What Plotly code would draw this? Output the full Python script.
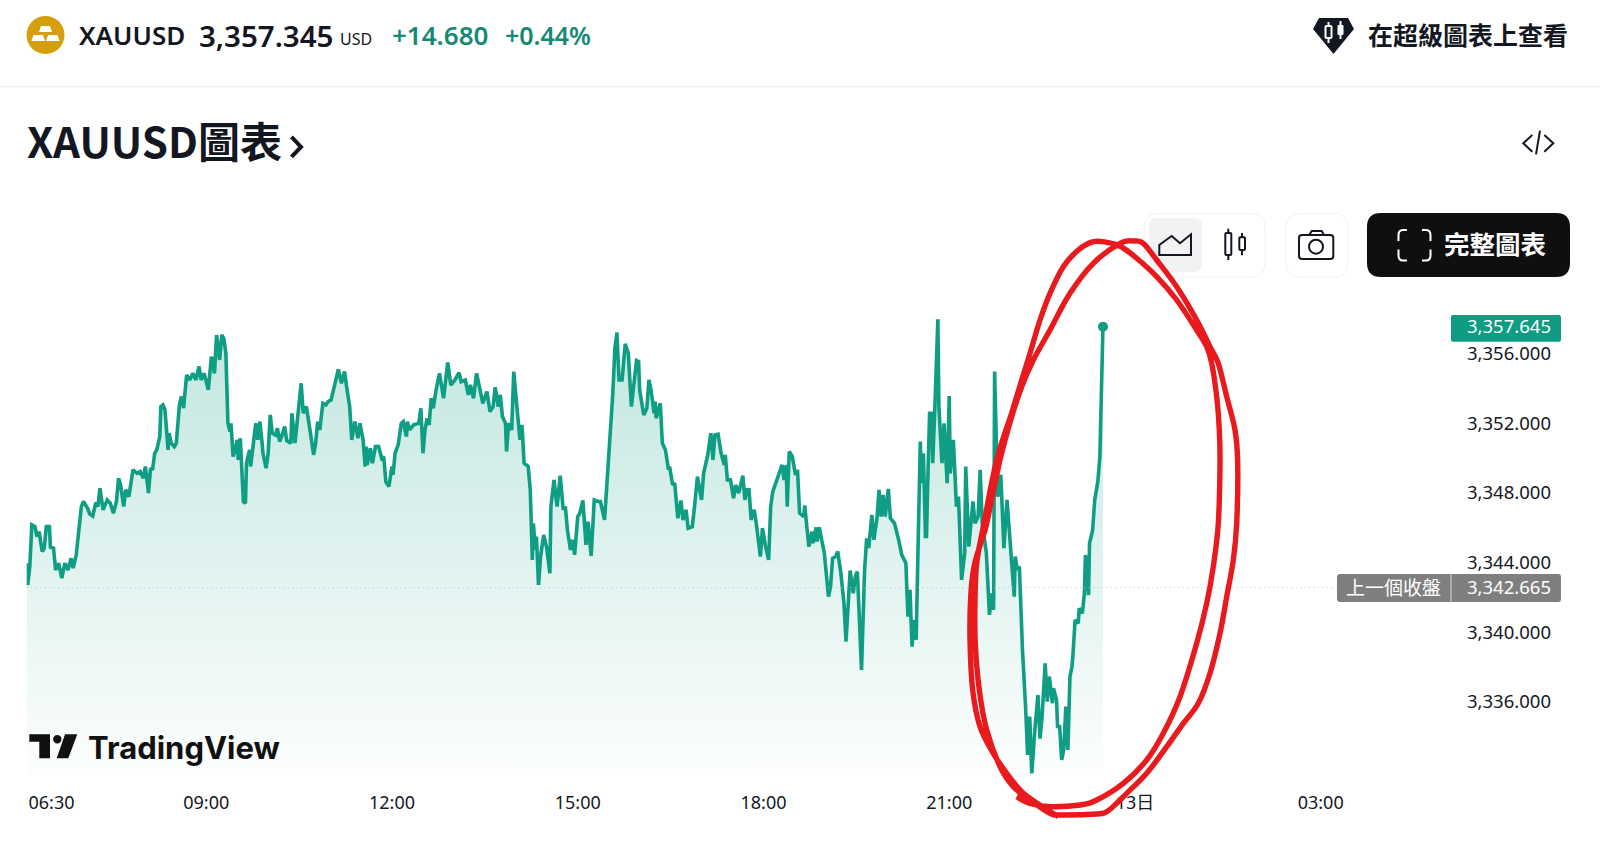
import plotly.graph_objects as go
import pandas as pd

W, H = 1600, 862

SYMBOL = "XAUUSD"
LAST_QUOTE = "3,357.345"
CHANGE = "+14.680"
CHANGE_PCT = "+0.44%"
LAST_PRICE = 3357.645
PREV_CLOSE = 3342.665
SESSION_START = "2025-06-12 06:06"

# minutes after session start, price
elapsed_min = [
    0, 1, 3, 4, 5, 8, 10, 12, 15, 17, 19, 22, 23, 26, 28, 31, 34, 37, 40, 43,
    45, 48, 50, 53, 55, 59, 61, 64, 67, 69, 71, 74, 78, 81, 84, 87, 89, 91, 94, 96,
    99, 102, 103, 107, 110, 113, 115, 118, 120, 122, 124, 126, 129, 130, 132, 134, 137, 138, 140, 143,
    145, 148, 150, 152, 155, 158, 161, 164, 167, 169, 172, 176, 179, 182, 184, 187, 189, 191, 193, 195,
    197, 198, 200, 202, 204, 205, 207, 210, 212, 213, 216, 217, 219, 222, 224, 226, 228, 229, 232, 234,
    236, 238, 241, 243, 245, 247, 250, 252, 256, 257, 260, 263, 266, 268, 271, 275, 278, 280, 282, 284,
    287, 290, 292, 295, 299, 302, 305, 308, 310, 313, 315, 318, 321, 323, 326, 328, 329, 330, 333, 335,
    338, 341, 344, 346, 348, 351, 354, 355, 357, 360, 363, 365, 368, 369, 371, 375, 380, 382, 384, 386,
    388, 390, 392, 394, 397, 400, 404, 408, 411, 415, 419, 421, 425, 428, 430, 433, 436, 439, 442, 446,
    449, 452, 454, 457, 459, 461, 464, 465, 467, 470, 472, 474, 476, 478, 480, 482, 486, 488, 490, 491,
    493, 494, 496, 498, 501, 504, 507, 508, 511, 514, 517, 520, 522, 524, 527, 529, 531, 534, 536, 539,
    542, 544, 547, 550, 554, 556, 560, 563, 565, 568, 570, 572, 574, 577, 580, 583, 586, 589, 591, 593,
    594, 598, 601, 603, 605, 608, 609, 610, 614, 616, 619, 622, 623, 626, 628, 631, 634, 636, 639, 641,
    645, 647, 650, 654, 656, 660, 663, 665, 667, 670, 673, 676, 677, 679, 682, 685, 687, 690, 694, 696,
    698, 700, 702, 705, 707, 711, 713, 716, 719, 721, 723, 727, 732, 734, 736, 737, 739, 742, 745, 747,
    749, 753, 754, 756, 758, 761, 762, 765, 766, 768, 771, 773, 777, 779, 781, 784, 786, 789, 792, 794,
    798, 801, 803, 805, 809, 812, 814, 816, 819, 821, 824, 826, 828, 830, 832, 835, 837, 841, 845, 848,
    852, 854, 856, 858, 860, 862, 864, 866, 867, 869, 871, 872, 873, 875, 877, 878, 880, 883, 884, 887,
    889, 892, 894, 895, 898, 901, 903, 906, 909, 910, 913, 917, 919, 922, 924, 926, 930, 933, 935, 937,
    938, 941, 944, 947, 950, 953, 954, 957, 958, 960, 962, 965, 968, 970, 972, 974, 977, 980, 982, 984,
    987, 989, 991, 994, 995, 998, 999, 1001, 1003, 1005, 1007, 1009, 1011, 1013, 1014, 1016, 1019, 1020, 1023, 1025,
    1026, 1029, 1030, 1033, 1035, 1038, 1040, 1042, 1043,
]
price = [
    3344.07, 3342.82, 3343.88, 3345.22, 3346.27, 3346.17, 3345.60, 3345.88, 3344.74, 3344.93, 3346.17, 3346.17, 3344.99, 3344.93, 3343.68, 3344.07, 3343.21, 3344.07, 3343.68, 3344.35,
    3343.78, 3344.55, 3345.60, 3347.32, 3347.61, 3347.22, 3346.90, 3346.78, 3347.55, 3347.32, 3348.37, 3347.13, 3347.70, 3347.51, 3346.94, 3347.61, 3348.95, 3348.56, 3347.32, 3348.28,
    3347.89, 3348.95, 3349.43, 3349.23, 3349.33, 3348.95, 3349.62, 3348.09, 3349.52, 3349.43, 3350.38, 3350.57, 3351.34, 3353.06, 3353.16, 3352.87, 3350.57, 3351.53, 3350.96, 3350.76,
    3350.96, 3353.16, 3353.64, 3352.97, 3354.88, 3354.59, 3354.97, 3354.59, 3355.36, 3354.59, 3354.97, 3354.02, 3355.93, 3354.97, 3357.17, 3355.74, 3357.17, 3356.98, 3356.12, 3352.10,
    3351.62, 3352.10, 3350.19, 3350.57, 3351.15, 3350.00, 3351.24, 3347.61, 3347.51, 3349.81, 3350.57, 3349.62, 3350.48, 3352.10, 3351.15, 3352.20, 3351.05, 3350.38, 3349.52, 3350.38,
    3352.58, 3351.53, 3351.43, 3351.82, 3351.05, 3351.34, 3351.91, 3351.11, 3350.96, 3352.68, 3350.96, 3352.68, 3354.40, 3352.68, 3353.06, 3351.53, 3350.29, 3350.96, 3352.20, 3351.72,
    3353.25, 3353.16, 3353.35, 3353.44, 3354.40, 3355.20, 3354.40, 3355.07, 3354.21, 3353.06, 3351.15, 3352.20, 3351.24, 3352.10, 3351.15, 3349.62, 3350.76, 3349.71, 3350.67, 3349.81,
    3350.76, 3350.76, 3350.09, 3350.19, 3348.75, 3348.47, 3349.62, 3349.14, 3350.38, 3350.86, 3352.10, 3352.20, 3351.34, 3352.20, 3351.72, 3352.01, 3352.10, 3352.96, 3350.38, 3351.72,
    3352.39, 3352.01, 3353.54, 3352.96, 3354.11, 3354.97, 3353.54, 3355.59, 3354.30, 3354.59, 3355.01, 3354.49, 3354.59, 3353.73, 3354.30, 3353.54, 3354.97, 3354.02, 3353.25, 3353.92,
    3352.77, 3353.06, 3354.17, 3353.06, 3353.73, 3352.49, 3352.10, 3350.48, 3352.10, 3351.72, 3355.07, 3353.73, 3352.29, 3351.15, 3352.01, 3349.81, 3349.62, 3348.28, 3344.26, 3346.36,
    3344.83, 3345.60, 3342.82, 3344.45, 3345.69, 3344.93, 3343.49, 3347.32, 3348.85, 3347.32, 3349.10, 3347.13, 3347.32, 3345.98, 3344.83, 3345.41, 3344.55, 3346.75, 3346.94, 3347.67,
    3345.12, 3346.46, 3344.49, 3347.70, 3347.61, 3347.61, 3346.55, 3349.33, 3350.96, 3353.83, 3356.41, 3357.31, 3354.59, 3354.59, 3356.66, 3356.12, 3353.06, 3354.78, 3355.70, 3355.64,
    3354.02, 3352.58, 3352.97, 3354.59, 3354.02, 3352.68, 3353.35, 3352.39, 3353.25, 3350.96, 3350.57, 3349.43, 3349.62, 3348.56, 3348.66, 3346.65, 3347.67, 3346.55, 3347.13, 3346.08,
    3346.17, 3347.22, 3349.04, 3347.70, 3349.23, 3350.29, 3351.53, 3350.00, 3351.43, 3351.47, 3350.38, 3349.71, 3350.29, 3348.85, 3348.85, 3347.80, 3348.56, 3348.09, 3349.10, 3347.70,
    3348.28, 3348.28, 3346.55, 3347.13, 3346.36, 3344.45, 3346.08, 3345.02, 3344.26, 3347.32, 3348.18, 3348.85, 3349.71, 3348.85, 3349.71, 3347.32, 3350.48, 3350.19, 3349.14, 3349.43,
    3346.94, 3346.75, 3347.38, 3346.17, 3345.02, 3345.88, 3345.22, 3346.13, 3345.31, 3346.13, 3345.22, 3344.64, 3342.15, 3342.73, 3344.35, 3344.45, 3344.74, 3343.49, 3341.77, 3339.57,
    3343.65, 3342.34, 3343.30, 3343.59, 3337.94, 3343.68, 3345.50, 3344.93, 3346.84, 3345.41, 3346.65, 3348.28, 3346.75, 3347.99, 3346.75, 3348.33, 3346.65, 3346.36, 3345.41, 3344.55,
    3344.07, 3341.00, 3342.54, 3339.28, 3340.81, 3339.67, 3345.60, 3351.05, 3348.66, 3350.38, 3345.60, 3345.60, 3348.28, 3352.68, 3352.68, 3349.81, 3352.87, 3358.07, 3353.06, 3349.81,
    3352.10, 3348.66, 3353.67, 3349.23, 3351.15, 3347.32, 3347.89, 3343.11, 3344.64, 3349.62, 3345.02, 3347.61, 3346.36, 3346.75, 3349.43, 3346.36, 3344.64, 3341.10, 3342.34, 3341.39,
    3355.07, 3347.89, 3349.14, 3344.93, 3347.70, 3345.22, 3344.07, 3342.15, 3344.45, 3343.68, 3343.88, 3339.09, 3335.83, 3333.06, 3335.26, 3332.00, 3334.50, 3336.50, 3334.00, 3335.26,
    3338.32, 3336.12, 3337.56, 3336.03, 3336.89, 3336.22, 3334.69, 3334.69, 3332.77, 3333.35, 3335.83, 3333.35, 3337.56, 3338.13, 3338.90, 3340.81, 3340.62, 3341.48, 3341.19, 3342.34,
    3344.54, 3342.24, 3345.21, 3345.97, 3347.70, 3348.75, 3350.19, 3354.78, 3357.645,
]

price_ticks = [3336, 3340, 3344, 3348, 3352, 3356]
time_ticks = ["2025-06-12 06:30", "2025-06-12 09:00", "2025-06-12 12:00", "2025-06-12 15:00",
              "2025-06-12 18:00", "2025-06-12 21:00", "2025-06-13 00:00", "2025-06-13 03:00"]
time_labels = ["06:30", "09:00", "12:00", "15:00", "18:00", "21:00", "13日", "03:00"]

TEAL = "#0f9e84"
INK = "#131722"
GREEN_TXT = "#148a73"
RED = "#e81a1d"
LATIN = "Noto Sans, Noto Sans CJK TC, sans-serif"
CJK = "Noto Sans CJK TC, Noto Sans, sans-serif"

start = pd.Timestamp(SESSION_START)
times = start + pd.to_timedelta(elapsed_min, unit="min")


def fx(x):
    return x / W


def fy(y):
    return 1 - y / H


def poly(pts, close=False):
    d = "M" + " L".join(f"{fx(x):.5f},{fy(y):.5f}" for x, y in pts)
    return d + (" Z" if close else "")


def rrect(x0, y0, x1, y1, r):
    c = lambda x, y: f"{fx(x):.5f},{fy(y):.5f}"
    return (f"M{c(x0 + r, y0)} L{c(x1 - r, y0)} Q{c(x1, y0)} {c(x1, y0 + r)} "
            f"L{c(x1, y1 - r)} Q{c(x1, y1)} {c(x1 - r, y1)} L{c(x0 + r, y1)} "
            f"Q{c(x0, y1)} {c(x0, y1 - r)} L{c(x0, y0 + r)} Q{c(x0, y0)} {c(x0 + r, y0)} Z")


def smooth(pts):
    # catmull-rom through the hand drawn points
    c = lambda x, y: f"{fx(x):.5f},{fy(y):.5f}"
    d = "M" + c(*pts[0])
    for i in range(len(pts) - 1):
        p0 = pts[max(i - 1, 0)]
        p1, p2 = pts[i], pts[i + 1]
        p3 = pts[min(i + 2, len(pts) - 1)]
        a = (p1[0] + (p2[0] - p0[0]) / 6, p1[1] + (p2[1] - p0[1]) / 6)
        b = (p2[0] - (p3[0] - p1[0]) / 6, p2[1] - (p3[1] - p1[1]) / 6)
        d += f" C{c(*a)} {c(*b)} {c(*p2)}"
    return d


fig = go.Figure()

fig.add_trace(go.Scatter(
    x=times, y=price, mode="lines",
    line=dict(color=TEAL, width=3.6),
    fill="tozeroy",
    fillgradient=dict(type="vertical",
                      colorscale=[[0, "rgba(15,158,132,0.01)"], [1, "rgba(15,158,132,0.27)"]],
                      start=3331.85, stop=3359.18),
    hoverinfo="skip", showlegend=False,
))
fig.add_trace(go.Scatter(
    x=[times[-1]], y=[LAST_PRICE], mode="markers",
    marker=dict(color=TEAL, size=10),
    hoverinfo="skip", showlegend=False,
))

shapes = []


def add_path(path, fill=None, line=None, width=0):
    shapes.append(dict(type="path", xref="paper", yref="paper", path=path, layer="above",
                       fillcolor=fill if fill else "rgba(0,0,0,0)",
                       line=dict(color=line if line else "rgba(0,0,0,0)", width=width)))


def add_circle(cx, cy, r, fill=None, line=None, width=0):
    shapes.append(dict(type="circle", xref="paper", yref="paper", layer="above",
                       x0=fx(cx - r), x1=fx(cx + r), y0=fy(cy + r), y1=fy(cy - r),
                       fillcolor=fill if fill else "rgba(0,0,0,0)",
                       line=dict(color=line if line else "rgba(0,0,0,0)", width=width)))


# header divider
add_path(poly([(0, 86.5), (W, 86.5)]), line="#eeeeee", width=1)

# gold logo
add_circle(45.5, 35, 19, fill="#d49f0a")
add_path(poly([(41, 26), (50, 26), (52, 32), (39, 32)], True), fill="white")
add_path(poly([(33.5, 35), (43, 35), (45, 41), (31.5, 41)], True), fill="white")
add_path(poly([(48, 35), (57.5, 35), (59.5, 41), (46, 41)], True), fill="white")

# supercharts badge
add_path(poly([(1319, 18), (1348, 18), (1354, 29), (1333.5, 54), (1313, 29)], True), fill=INK)
add_path(poly([(1328.5, 22), (1328.5, 43)]), line="white", width=2)
add_path(rrect(1325.5, 26, 1331.5, 38, 1), fill=INK, line="white", width=2)
add_path(poly([(1340.5, 21), (1340.5, 39)]), line="white", width=2)
add_path(rrect(1337.5, 25, 1343.5, 35, 1), fill="white")

# embed icon
add_path(poly([(1532.3, 135), (1523.3, 143.3), (1532.3, 151.7)]), line=INK, width=2)
add_path(poly([(1540, 130.7), (1536, 154.3)]), line=INK, width=2)
add_path(poly([(1544.3, 135), (1553.3, 143.3), (1544.3, 151.7)]), line=INK, width=2)

# title chevron
add_path(poly([(291.5, 137), (301, 147), (291.5, 157)]), line=INK, width=4)

# chart style buttons
add_path(rrect(1144, 213.5, 1265, 277, 14), fill="white", line="#f0f0f0", width=1)
add_path(rrect(1149, 218, 1202, 272, 8), fill="#f2f2f2")
add_path(poly([(1159.3, 255), (1159.3, 245), (1171.7, 236), (1180, 243.3), (1191, 234.3), (1191, 255)], True),
         line=INK, width=2)
add_path(poly([(1228.3, 228.7), (1228.3, 260)]), line=INK, width=2)
add_path(rrect(1225.3, 233, 1231.3, 255, 1), fill="white", line=INK, width=2)
add_path(poly([(1242, 233), (1242, 255.3)]), line=INK, width=2)
add_path(rrect(1239.3, 237.3, 1245, 250, 1), fill="white", line=INK, width=2)

# camera button
add_path(rrect(1286, 213.5, 1348, 277, 14), fill="white", line="#f0f0f0", width=1)
add_path(rrect(1299, 235, 1333.3, 259, 3), line=INK, width=2)
add_path(poly([(1309.3, 235), (1311.7, 231), (1321.7, 231), (1324, 235)]), line=INK, width=2)
add_circle(1316, 246.7, 7, line=INK, width=2)

# full chart button
add_path(rrect(1367, 213, 1570, 277, 14), fill="#0f0f0f")
c = lambda x, y: f"{fx(x):.5f},{fy(y):.5f}"
for a, s, b, d, e in [((1407, 230), (1403, 230), (1398.5, 230), (1398.5, 235), (1398.5, 241)),
                      ((1422, 230), (1426, 230), (1430.5, 230), (1430.5, 235), (1430.5, 241)),
                      ((1407, 260.5), (1403, 260.5), (1398.5, 260.5), (1398.5, 255.5), (1398.5, 249.5)),
                      ((1422, 260.5), (1426, 260.5), (1430.5, 260.5), (1430.5, 255.5), (1430.5, 249.5))]:
    add_path(f"M{c(*a)} L{c(*s)} Q{c(*b)} {c(*d)} L{c(*e)}", line="white", width=2)

# previous close line and price tags
shapes.append(dict(type="line", xref="paper", yref="y", layer="above",
                   x0=fx(26.7), x1=fx(1333), y0=PREV_CLOSE, y1=PREV_CLOSE,
                   line=dict(color="#bcc0c6", width=1, dash="1px,3.5px")))
add_path(rrect(1451, 315, 1561, 341.7, 2), fill="#0e9c82")
add_path(rrect(1337, 574, 1561, 602, 3), fill="#7f7f7f")
add_path(poly([(1451, 574), (1451, 602)]), line="#d8d8d8", width=1)

# tradingview mark
add_path(poly([(29.3, 734.3), (50, 734.3), (50, 758.3), (39.3, 758.3), (39.3, 741.7), (29.3, 741.7)], True), fill="#111111")
add_circle(57.3, 739.3, 4.2, fill="#111111")
add_path(poly([(65, 734.3), (77.3, 734.3), (68.3, 758.3), (56.7, 758.3)], True), fill="#111111")

# red hand drawn loop
loop = [
    (1058.3, 816.7), (1038.3, 804), (1021.7, 791.7), (1006.7, 773.3), (993.3, 753.3), (980, 726.7),
    (972.7, 690), (970, 640), (970.7, 596.7), (974, 566.7), (981.7, 540), (986.7, 523.3), (1000, 460),
    (1011.7, 416.7), (1021.7, 386.7), (1033.3, 360), (1050, 330), (1070, 293.3), (1093.3, 263.3),
    (1120, 243.3), (1133.3, 241), (1143.3, 243.3), (1156.7, 260), (1176.7, 286.7), (1196.7, 320),
    (1210, 346.7), (1218.3, 363.3), (1226.7, 396.7), (1235, 430), (1237.7, 463.3), (1236.7, 523.3),
    (1233.3, 560), (1226.7, 596.7), (1220, 633.3), (1210, 673.3), (1198.3, 703.3), (1183.3, 723.3),
    (1166.7, 746.7), (1146.7, 773.3), (1126.7, 793.3), (1116.7, 803.3), (1106.7, 811.7), (1096.7, 814),
    (1060, 815), (1050, 813.3), (1030, 800), (1013.3, 786.7), (1000, 766.7), (986.7, 730), (979.3, 690),
    (975.3, 643.3), (975, 600), (976.7, 563.3), (983.3, 526.7), (996.7, 460), (1012, 412), (1021.7, 380),
    (1030, 353.3), (1040, 320), (1050, 293.3), (1063.3, 266.7), (1078.3, 250), (1093.3, 241.7),
    (1106.7, 242.3), (1120, 246), (1136.7, 258.3), (1156.7, 276.7), (1176.7, 300), (1196.7, 330),
    (1206.7, 346.7), (1211.7, 363.3), (1216.7, 396.7), (1219.3, 430), (1220, 463.3), (1218.3, 523.3),
    (1213.3, 566.7), (1206.7, 603.3), (1196.7, 643.3), (1180, 696.7), (1163.3, 733.3), (1146.7, 760),
    (1123.3, 783.3), (1096.7, 800), (1080, 805), (1050, 806.7), (1030, 803.3), (1016.7, 796.7),
]
add_path(smooth(loop), line=RED, width=5.4)

notes = []


def label(x, y, text, size, color=INK, anchor="left", family=LATIN, weight=None, yref="paper", yshift=0):
    notes.append(dict(xref="paper", yref=yref, x=fx(x), y=fy(y) if yref == "paper" else y,
                      text=text, showarrow=False, xanchor=anchor, yanchor="middle", yshift=yshift,
                      borderpad=0, font=dict(family=family, size=size, color=color, weight=weight)))


label(78, 35, SYMBOL, 26, weight=600)
label(197.5, 35, LAST_QUOTE, 29.5, weight=600)
label(339, 39, "USD", 16)
label(391, 35, CHANGE, 26, color=GREEN_TXT, weight=600)
label(504, 35, CHANGE_PCT, 25, color=GREEN_TXT, weight=600)
label(1367, 33.5, "在超級圖表上查看", 25, family=CJK, weight=700)
label(26, 140, SYMBOL + "圖表", 42, family=CJK, weight=700)
label(1443, 243, "完整圖表", 25.5, color="white", family=CJK, weight=700)
label(1552, LAST_PRICE, f"{LAST_PRICE:,.3f}", 18.5, color="white", anchor="right", yref="y", yshift=1.5)
label(1552, PREV_CLOSE, f"{PREV_CLOSE:,.3f}", 18.5, color="white", anchor="right", yref="y", yshift=1.5)
label(1345, 586.5, "上一個收盤", 19, color="white", family=CJK)
label(87, 747, "TradingView", 31, color="#111111", family="Inter, sans-serif", weight=700)

fig.update_layout(
    width=W, height=H, autosize=False,
    margin=dict(l=0, r=0, t=0, b=0),
    paper_bgcolor="white", plot_bgcolor="white",
    showlegend=False, shapes=shapes, annotations=notes,
    font=dict(family=LATIN, size=18, color=INK),
    xaxis=dict(
        domain=[fx(26.7), fx(1460)],
        range=[start, start + pd.Timedelta(minutes=1389)],
        type="date", tickmode="array", tickvals=time_ticks, ticktext=time_labels,
        ticks="", showgrid=False, showline=False, zeroline=False,
        ticklabelstandoff=14, tickfont=dict(size=18, color=INK),
    ),
    yaxis=dict(
        domain=[fy(776), fy(300)],
        range=[3331.85, 3359.18],
        side="right", tickmode="array", tickvals=price_ticks, tickformat=",.3f",
        ticks="", showgrid=False, showline=False, zeroline=False,
        ticklabelstandoff=6, ticklabelshift=-2, tickfont=dict(size=18.5, color=INK),
    ),
)

fig.write_html("out.html", config={"displayModeBar": False},
               post_script="document.body.style.margin='0';document.body.style.overflow='hidden';")
